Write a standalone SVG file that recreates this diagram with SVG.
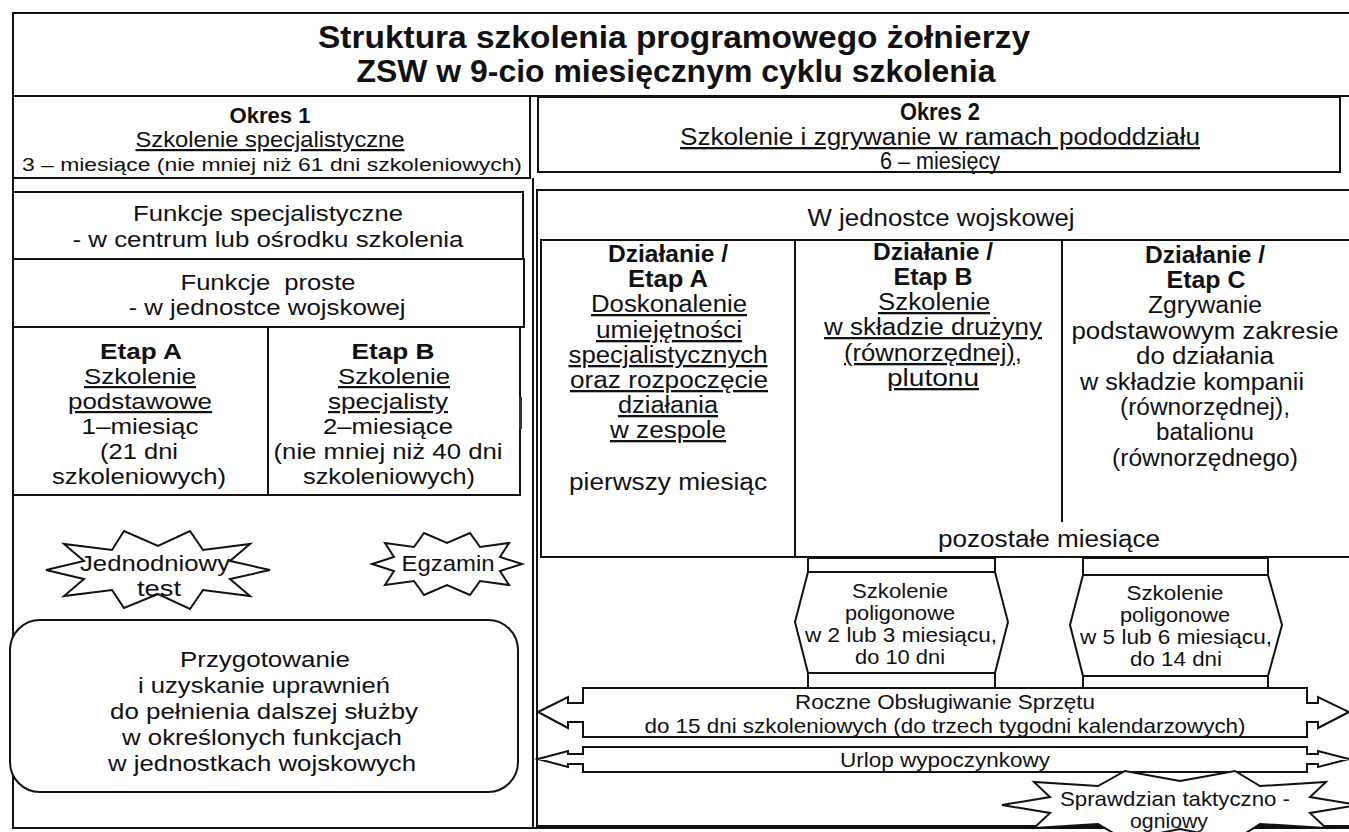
<svg xmlns="http://www.w3.org/2000/svg" width="1349" height="832" viewBox="0 0 1349 832">
<style>
.bx{fill:#fff;stroke:#111;stroke-width:2}
.ln{fill:none;stroke:#111;stroke-width:2}
.t{font-family:"Liberation Sans",Arial,sans-serif;fill:#111;text-anchor:middle;font-size:22px}
.n{font-family:"Liberation Sans Narrow","Liberation Sans",Arial,sans-serif;font-size:23px}
.b{font-weight:bold}
.u{text-decoration:underline}
.s{font-size:18px}
.h{font-size:21px}
</style>
<rect width="1349" height="832" fill="#fff"/>
<g id="frame">
<rect class="ln" x="13" y="13" width="1346" height="815"/>
<line class="ln" x1="533" y1="178" x2="533" y2="828"/>
</g>
<g id="title">
<text class="t b" x="674" y="48" textLength="712" lengthAdjust="spacingAndGlyphs" style="font-size:31px">Struktura szkolenia programowego żołnierzy</text>
<text class="t b" x="676" y="82" textLength="639" lengthAdjust="spacingAndGlyphs" style="font-size:31px">ZSW w 9-cio miesięcznym cyklu szkolenia</text>
<line class="ln" x1="13" y1="96" x2="1349" y2="96"/>
</g>
<g id="okres1">
<rect class="bx" x="13" y="96" width="517" height="82"/>
<text class="t b" x="270" y="123" textLength="81" lengthAdjust="spacingAndGlyphs">Okres 1</text>
<text class="t u" x="270" y="147" textLength="269" lengthAdjust="spacingAndGlyphs">Szkolenie specjalistyczne</text>
<text class="t s" x="272" y="171" textLength="500" lengthAdjust="spacingAndGlyphs">3 – miesiące (nie mniej niż 61 dni szkoleniowych)</text>
</g>
<g id="okres2">
<rect class="bx" x="538" y="97" width="802" height="75"/>
<text class="t n b" x="940" y="120" textLength="80" lengthAdjust="spacingAndGlyphs">Okres 2</text>
<text class="t n u" x="940" y="145" textLength="520" lengthAdjust="spacingAndGlyphs">Szkolenie i zgrywanie w ramach pododdziału</text>
<text class="t n" x="940" y="169" textLength="120" lengthAdjust="spacingAndGlyphs">6 – miesięcy</text>
</g>
<g id="funkcje-specjalistyczne">
<rect class="bx" x="13" y="192" width="510" height="67"/>
<text class="t" x="268" y="221" textLength="270" lengthAdjust="spacingAndGlyphs">Funkcje specjalistyczne</text>
<text class="t" x="268" y="247" textLength="391" lengthAdjust="spacingAndGlyphs">- w centrum lub ośrodku szkolenia</text>
</g>
<g id="funkcje-proste">
<rect class="bx" x="13" y="259" width="511" height="68"/>
<text class="t" x="268" y="290" textLength="175" lengthAdjust="spacingAndGlyphs" xml:space="preserve">Funkcje  proste</text>
<text class="t" x="267" y="315" textLength="277" lengthAdjust="spacingAndGlyphs">- w jednostce wojskowej</text>
</g>
<g id="etap-a">
<rect class="bx" x="13" y="327" width="255" height="168"/>
<text class="t b" x="141" y="359" textLength="82" lengthAdjust="spacingAndGlyphs">Etap A</text>
<text class="t u" x="140" y="384" textLength="112" lengthAdjust="spacingAndGlyphs">Szkolenie</text>
<text class="t u" x="140" y="409" textLength="144" lengthAdjust="spacingAndGlyphs">podstawowe</text>
<text class="t" x="140" y="434" textLength="117" lengthAdjust="spacingAndGlyphs">1–miesiąc</text>
<text class="t" x="139" y="459" textLength="78" lengthAdjust="spacingAndGlyphs">(21 dni</text>
<text class="t" x="139" y="484" textLength="174" lengthAdjust="spacingAndGlyphs">szkoleniowych)</text>
</g>
<g id="etap-b">
<rect class="bx" x="268" y="327" width="252" height="168"/>
<rect x="519" y="397" width="3" height="32" fill="#333"/>
<text class="t b" x="393" y="359" textLength="83" lengthAdjust="spacingAndGlyphs">Etap B</text>
<text class="t u" x="394" y="384" textLength="112" lengthAdjust="spacingAndGlyphs">Szkolenie</text>
<text class="t u" x="388" y="409" textLength="120" lengthAdjust="spacingAndGlyphs">specjalisty</text>
<text class="t" x="388" y="434" textLength="130" lengthAdjust="spacingAndGlyphs">2–miesiące</text>
<text class="t" x="388" y="459" textLength="229" lengthAdjust="spacingAndGlyphs">(nie mniej niż 40 dni</text>
<text class="t" x="389" y="484" textLength="172" lengthAdjust="spacingAndGlyphs">szkoleniowych)</text>
</g>
<g id="test-star">
<polygon class="bx" points="270,570 230,579 250,596 203,590 190,609 158,594 124,608 112,590 64,596 84,579 46,570 84,561 64,544 112,550 124,531 158,546 190,531 203,550 250,544 230,561"/>
<text class="t" x="155" y="571" textLength="150" lengthAdjust="spacingAndGlyphs">Jednodniowy</text>
<text class="t" x="159" y="596" textLength="44" lengthAdjust="spacingAndGlyphs">test</text>
</g>
<g id="egzamin-star">
<polygon class="bx" points="522,564 500,571 509,585 480,581 470,595 447,585 424,595 414,581 385,585 394,571 372,564 394,557 385,543 414,547 424,533 447,543 470,533 480,547 509,543 500,557"/>
<text class="t" x="448" y="571" textLength="93" lengthAdjust="spacingAndGlyphs">Egzamin</text>
</g>
<g id="przygotowanie">
<rect class="bx" x="10" y="620" width="508" height="172" rx="30"/>
<text class="t" x="265" y="667" textLength="170" lengthAdjust="spacingAndGlyphs">Przygotowanie</text>
<text class="t" x="264" y="693" textLength="252" lengthAdjust="spacingAndGlyphs">i uzyskanie uprawnień</text>
<text class="t" x="264" y="719" textLength="308" lengthAdjust="spacingAndGlyphs">do pełnienia dalszej służby</text>
<text class="t" x="262" y="745" textLength="280" lengthAdjust="spacingAndGlyphs">w określonych funkcjach</text>
<text class="t" x="262" y="771" textLength="308" lengthAdjust="spacingAndGlyphs">w jednostkach wojskowych</text>
</g>
<g id="jednostka">
<rect class="bx" x="537" y="190" width="820" height="636"/>
<text class="t n" x="941" y="226" textLength="267" lengthAdjust="spacingAndGlyphs">W jednostce wojskowej</text>
</g>
<g id="dzialanie-a">
<rect class="bx" x="541" y="240" width="254" height="317"/>
<text class="t n b" x="668" y="262" textLength="120" lengthAdjust="spacingAndGlyphs">Działanie /</text>
<text class="t n b" x="668" y="287" textLength="80" lengthAdjust="spacingAndGlyphs">Etap A</text>
<text class="t n u" x="669" y="312" textLength="156" lengthAdjust="spacingAndGlyphs">Doskonalenie</text>
<text class="t n u" x="669" y="338" textLength="146" lengthAdjust="spacingAndGlyphs">umiejętności</text>
<text class="t n u" x="668" y="363" textLength="199" lengthAdjust="spacingAndGlyphs">specjalistycznych</text>
<text class="t n u" x="669" y="388" textLength="198" lengthAdjust="spacingAndGlyphs">oraz rozpoczęcie</text>
<text class="t n u" x="668" y="413" textLength="100" lengthAdjust="spacingAndGlyphs">działania</text>
<text class="t n u" x="668" y="438" textLength="116" lengthAdjust="spacingAndGlyphs">w zespole</text>
<text class="t n" x="668" y="490" textLength="198" lengthAdjust="spacingAndGlyphs">pierwszy miesiąc</text>
</g>
<g id="dzialanie-b">
<path class="ln" d="M795,240 H1349 M795,557 H1349"/>
<text class="t n b" x="933" y="260" textLength="120" lengthAdjust="spacingAndGlyphs">Działanie /</text>
<text class="t n b" x="933" y="285" textLength="79" lengthAdjust="spacingAndGlyphs">Etap B</text>
<text class="t n u" x="934" y="310" textLength="112" lengthAdjust="spacingAndGlyphs">Szkolenie</text>
<text class="t n u" x="933" y="335" textLength="218" lengthAdjust="spacingAndGlyphs">w składzie drużyny</text>
<text class="t n u" x="933" y="361" textLength="178" lengthAdjust="spacingAndGlyphs">(równorzędnej),</text>
<text class="t n u" x="933" y="386" textLength="92" lengthAdjust="spacingAndGlyphs">plutonu</text>
<text class="t n" x="1049" y="547" textLength="222" lengthAdjust="spacingAndGlyphs">pozostałe miesiące</text>
</g>
<g id="dzialanie-c">
<line class="ln" x1="1062" y1="240" x2="1062" y2="522"/>
<text class="t n b" x="1205" y="263" textLength="120" lengthAdjust="spacingAndGlyphs">Działanie /</text>
<text class="t n b" x="1206" y="288" textLength="79" lengthAdjust="spacingAndGlyphs">Etap C</text>
<text class="t n" x="1205" y="313" textLength="114" lengthAdjust="spacingAndGlyphs">Zgrywanie</text>
<text class="t n" x="1205" y="339" textLength="267" lengthAdjust="spacingAndGlyphs">podstawowym zakresie</text>
<text class="t n" x="1205" y="364" textLength="138" lengthAdjust="spacingAndGlyphs">do działania</text>
<text class="t n" x="1192" y="390" textLength="224" lengthAdjust="spacingAndGlyphs">w składzie kompanii</text>
<text class="t n" x="1205" y="415" textLength="170" lengthAdjust="spacingAndGlyphs">(równorzędnej),</text>
<text class="t n" x="1205" y="440" textLength="98" lengthAdjust="spacingAndGlyphs">batalionu</text>
<text class="t n" x="1205" y="466" textLength="186" lengthAdjust="spacingAndGlyphs">(równorzędnego)</text>
</g>
<g id="poligon-1">
<rect class="bx" x="808" y="558" width="187" height="14"/>
<polygon class="bx" points="808,572 995,572 1008,622 995,673 808,673 795,622"/>
<rect class="bx" x="808" y="673" width="187" height="15"/>
<text class="t n h" x="900" y="598" textLength="96" lengthAdjust="spacingAndGlyphs">Szkolenie</text>
<text class="t n h" x="900" y="620" textLength="110" lengthAdjust="spacingAndGlyphs">poligonowe</text>
<text class="t n h" x="901" y="642" textLength="192" lengthAdjust="spacingAndGlyphs">w 2 lub 3 miesiącu,</text>
<text class="t n h" x="900" y="664" textLength="90" lengthAdjust="spacingAndGlyphs">do 10 dni</text>
</g>
<g id="poligon-2">
<rect class="bx" x="1083" y="558" width="185" height="17"/>
<polygon class="bx" points="1083,575 1268,575 1282,625 1268,676 1083,676 1070,625"/>
<rect class="bx" x="1083" y="676" width="185" height="12"/>
<text class="t n h" x="1175" y="600" textLength="97" lengthAdjust="spacingAndGlyphs">Szkolenie</text>
<text class="t n h" x="1175" y="622" textLength="110" lengthAdjust="spacingAndGlyphs">poligonowe</text>
<text class="t n h" x="1176" y="644" textLength="192" lengthAdjust="spacingAndGlyphs">w 5 lub 6 miesiącu,</text>
<text class="t n h" x="1176" y="666" textLength="92" lengthAdjust="spacingAndGlyphs">do 14 dni</text>
</g>
<g id="obslugiwanie">
<polygon class="bx" points="538,712 568,697 568,703 583,703 583,688 1307,688 1307,703 1318,703 1318,697 1349,712 1318,728 1318,722 1307,722 1307,737 583,737 583,722 568,722 568,728"/>
<text class="t n h" x="945" y="709" textLength="300" lengthAdjust="spacingAndGlyphs">Roczne Obsługiwanie Sprzętu</text>
<text class="t n h" x="945" y="733" textLength="601" lengthAdjust="spacingAndGlyphs">do 15 dni szkoleniowych (do trzech tygodni kalendarzowych)</text>
</g>
<g id="urlop">
<polygon class="bx" points="538,759 568,751 568,754 583,754 583,747 1307,747 1307,754 1318,754 1318,751 1349,759 1318,767 1318,764 1307,764 1307,772 583,772 583,764 568,764 568,767"/>
<text class="t n h" x="945" y="767" textLength="210" lengthAdjust="spacingAndGlyphs">Urlop wypoczynkowy</text>
</g>
<g id="sprawdzian-star">
<polygon class="bx" points="1358,805 1310,813 1326,828 1260,824 1235,840 1180,829 1125,840 1098,824 1034,828 1050,813 1002,805 1050,797 1034,782 1098,786 1125,771 1180,781 1235,771 1260,786 1326,782 1310,797"/>
<text class="t h" x="1175" y="806" textLength="230" lengthAdjust="spacingAndGlyphs">Sprawdzian taktyczno -</text>
<text class="t h" x="1169" y="828" textLength="78" lengthAdjust="spacingAndGlyphs">ogniowy</text>
</g>
<g id="connectors"></g>
</svg>
